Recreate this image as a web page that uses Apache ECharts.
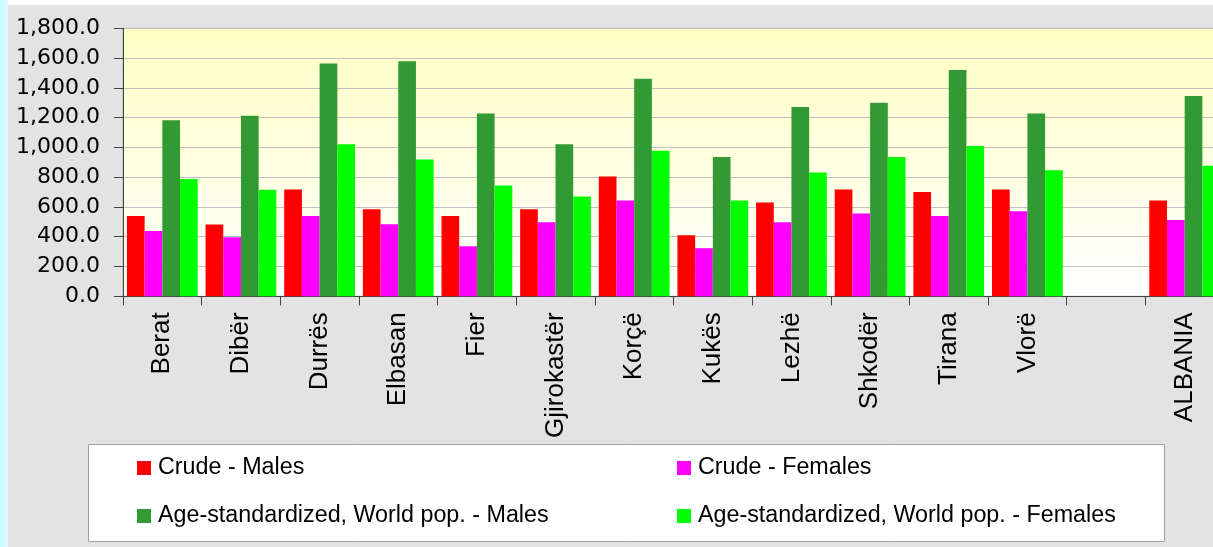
<!DOCTYPE html>
<html>
<head>
<meta charset="utf-8">
<script src="https://cdn.jsdelivr.net/npm/echarts@6/dist/echarts.min.js"></script>
<style>
html,body{margin:0;padding:0;background:#fff;}
#chart{width:1213px;height:547px;}
</style>
</head>
<body>
<div id="chart"></div>
<script>
const categories = ['Berat','Dibër','Durrës','Elbasan','Fier','Gjirokastër','Korçë','Kukës','Lezhë','Shkodër','Tirana','Vlorë','','ALBANIA'];
const seriesNames = ['Crude - Males','Crude - Females','Age-standardized, World pop. - Males','Age-standardized, World pop. - Females'];
const crudeMales   = [540, 482, 717, 585, 540, 585, 805, 410, 630, 717, 701, 717, null, 643];
const crudeFemales = [439, 397, 540, 484, 336, 498, 643, 323, 498, 556, 540, 572, null, 513];
const asrMales     = [1183, 1213, 1564, 1578, 1228, 1022, 1461, 935, 1271, 1300, 1520, 1228, null, 1345];
const asrFemales   = [787, 715, 1022, 919, 744, 670, 977, 643, 832, 935, 1009, 847, null, 876];
const yTickValues  = [0, 200, 400, 600, 800, 1000, 1200, 1400, 1600, 1800];

const colors = ['#FF0000', '#FF00FF', '#339933', '#00FF00'];
const seriesData = [crudeMales, crudeFemales, asrMales, asrFemales];

const chart = echarts.init(document.getElementById('chart'), null, {renderer: 'canvas'});

const legendText = {fontSize: 23.3, fontFamily: 'Liberation Sans', color: '#000', lineHeight: 24, padding: [0, 0, 0, 2]};
function mkLegend(name, left, top) {
  return {
    data: [name], left: left, top: top, padding: 0, icon: 'rect',
    itemWidth: 14, itemHeight: 14, textStyle: legendText, selectedMode: false
  };
}

const option = {
  animation: false,
  backgroundColor: '#E3E3E3',
  graphic: [
    {type: 'rect', z: -10, shape: {x: 0, y: 0, width: 1213, height: 5}, style: {fill: '#FFFFFF'}, silent: true},
    {type: 'rect', z: -9, shape: {x: 0, y: 0, width: 8, height: 547},
     style: {fill: new echarts.graphic.LinearGradient(0, 0, 1, 0, [{offset: 0, color: '#C6FAFF'}, {offset: 1, color: '#DDFDFF'}])}, silent: true},
    {type: 'rect', z: 1, shape: {x: 88.5, y: 444.5, width: 1076, height: 97}, style: {fill: '#FFFFFF', stroke: '#A0A0A0', lineWidth: 1}, silent: true}
  ],
  legend: [
    mkLegend(seriesNames[0], 137, 456),
    mkLegend(seriesNames[1], 677, 456),
    mkLegend(seriesNames[2], 137, 504),
    mkLegend(seriesNames[3], 677, 504)
  ],
  grid: {
    left: 123, width: 1101, top: 28.3, height: 268,
    outerBoundsMode: 'none',
    containLabel: false,
    show: true,
    borderColor: '#B4B4B4', borderWidth: 1,
    backgroundColor: {type: 'linear', x: 0, y: 0, x2: 0, y2: 1,
      colorStops: [{offset: 0, color: '#FFFFC4'}, {offset: 1, color: '#FFFFFF'}]}
  },
  xAxis: {
    type: 'category',
    data: categories,
    axisLine: {lineStyle: {color: '#404040', width: 1}},
    axisTick: {show: true, length: 9, lineStyle: {color: '#404040'}},
    axisLabel: {rotate: 90, interval: 0, margin: 16, fontSize: 26, fontFamily: 'Liberation Sans', color: '#000'}
  },
  yAxis: {
    type: 'value',
    min: yTickValues[0], max: yTickValues[yTickValues.length - 1], interval: 200,
    axisLine: {show: true, lineStyle: {color: '#404040', width: 1}},
    axisTick: {show: true, length: 9, lineStyle: {color: '#404040'}},
    splitLine: {lineStyle: {color: '#C0C0C0', width: 1}},
    axisLabel: {
      margin: 23, fontSize: 22, fontFamily: 'DejaVu Sans', color: '#000',
      formatter: v => v.toLocaleString('en-US', {minimumFractionDigits: 1, maximumFractionDigits: 1})
    }
  },
  series: seriesNames.map((n, i) => ({
    name: n, type: 'bar', data: seriesData[i],
    itemStyle: {color: colors[i]},
    barGap: '0%', barCategoryGap: '10%'
  }))
};
chart.setOption(option);
</script>
</body>
</html>
